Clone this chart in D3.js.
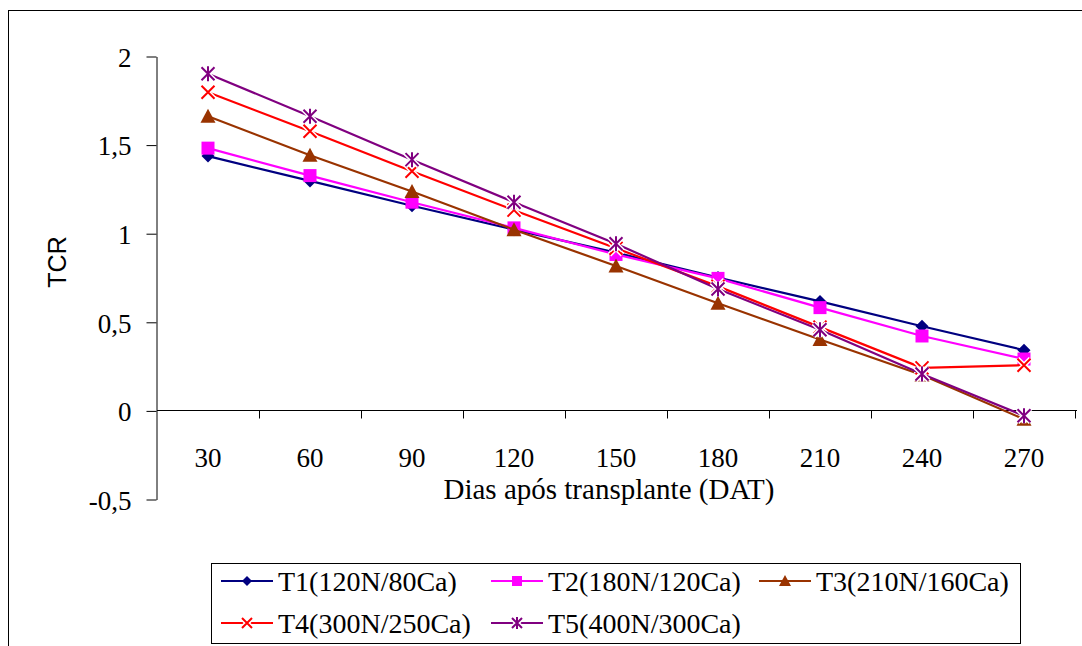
<!DOCTYPE html>
<html>
<head>
<meta charset="utf-8">
<script src="https://cdn.jsdelivr.net/npm/d3@7"></script>
<style>
  html, body { margin: 0; padding: 0; background: #fff; }
  svg { display: block; }
</style>
</head>
<body>
<svg id="chart" width="1082" height="646"></svg>
<script>
// Days after transplant (categories)
const days = [30, 60, 90, 120, 150, 180, 210, 240, 270];
const yTicks = [-0.5, 0, 0.5, 1, 1.5, 2];

// TCR per treatment
const t1 = [1.435, 1.295, 1.155, 1.02, 0.89, 0.75, 0.615, 0.475, 0.34];
const t2 = [1.48, 1.325, 1.175, 1.03, 0.88, 0.745, 0.58, 0.42, 0.29];
const t3 = [1.66, 1.44, 1.235, 1.02, 0.815, 0.605, 0.40, 0.20, -0.05];
const t4 = [1.795, 1.575, 1.35, 1.13, 0.915, 0.70, 0.47, 0.24, 0.255];
const t5 = [1.90, 1.66, 1.415, 1.175, 0.94, 0.685, 0.455, 0.205, -0.03];

const seriesNames = ["T1(120N/80Ca)", "T2(180N/120Ca)", "T3(210N/160Ca)", "T4(300N/250Ca)", "T5(400N/300Ca)"];
const seriesValues = [t1, t2, t3, t4, t5];
const seriesColors = ["#000080", "#FF00FF", "#993300", "#FF0000", "#800080"];
const seriesMarkers = ["diamond", "square", "triangle", "x", "star"];

const SERIF = "'Liberation Serif', 'DejaVu Serif', serif";
const SANS = "'Liberation Sans', Arial, sans-serif";

const svg = d3.select("#chart");

// Outer frame
svg.append("rect")
  .attr("x", 8.5).attr("y", 10.5)
  .attr("width", 1090).attr("height", 650)
  .attr("fill", "none").attr("stroke", "#000").attr("stroke-width", 1);

const plot = { left: 157, right: 1075, top: 56, bottom: 499 };

const x = d3.scaleBand().domain(days).range([plot.left, plot.right]).padding(0);
const y = d3.scaleLinear().domain([-0.5, 2]).range([plot.bottom, plot.top]);

// Y axis
const yAxis = d3.axisLeft(y).tickValues(yTicks).tickSize(10).tickSizeOuter(0)
  .tickFormat(d => String(d).replace(".", ","));
const gy = svg.append("g").attr("transform", `translate(${plot.left - 0.5},0.5)`).call(yAxis);
gy.attr("font-family", null).attr("font-size", null);
gy.select(".domain").attr("stroke", "#000");
gy.selectAll(".tick line").attr("stroke", "#000");
gy.selectAll(".tick text")
  .style("font-family", SERIF)
  .style("font-size", "27px")
  .style("fill", "#000")
  .attr("x", -25).attr("dy", "0.36em");

// X axis at zero, ticks on category boundaries
const gx = svg.append("g").attr("transform", `translate(0,${Math.round(y(0)) + 0.5})`);
gx.append("line")
  .attr("x1", plot.left).attr("x2", plot.right + 2)
  .attr("stroke", "#000");
const boundaries = days.map(d => x(d) + x.bandwidth());
gx.selectAll("line.tk").data(boundaries).join("line")
  .attr("class", "tk")
  .attr("x1", d => Math.round(d) + 0.5).attr("x2", d => Math.round(d) + 0.5)
  .attr("y1", 0).attr("y2", 8)
  .attr("stroke", "#000");
svg.append("g").selectAll("text").data(days).join("text")
  .style("font-family", SERIF)
  .style("font-size", "27px")
  .attr("x", d => x(d) + x.bandwidth() / 2)
  .attr("y", 467)
  .attr("text-anchor", "middle")
  .text(d => d);

// Axis titles
svg.append("text")
  .style("font-family", SERIF)
  .style("font-size", "29px")
  .attr("x", 609).attr("y", 499)
  .attr("text-anchor", "middle")
  .text("Dias após transplante (DAT)");
svg.append("text")
  .style("font-family", SANS)
  .style("font-size", "25px")
  .attr("transform", "translate(66,262) rotate(-90)")
  .attr("text-anchor", "middle")
  .text("TCR");

// Marker drawing
function drawMarker(g, type, cx, cy, color, s) {
  const m = g.append("g").attr("transform", `translate(${cx},${cy})`);
  if (type === "diamond") {
    m.append("path").attr("d", `M0,${-s}L${s},0L0,${s}L${-s},0Z`).attr("fill", color);
  } else if (type === "square") {
    m.append("rect").attr("x", -s).attr("y", -s).attr("width", 2 * s).attr("height", 2 * s).attr("fill", color);
  } else if (type === "triangle") {
    m.append("path").attr("d", `M0,${-s - 1}L${s + 1},${s}L${-s - 1},${s}Z`).attr("fill", color);
  } else if (type === "x") {
    const p = `M${-s},${-s}L${s},${s}M${s},${-s}L${-s},${s}`;
    m.append("path").attr("d", p).attr("stroke", "#fff").attr("stroke-width", 5);
    m.append("path").attr("d", p).attr("stroke", color).attr("stroke-width", 2);
  } else if (type === "star") {
    const p = `M${-s},${-s}L${s},${s}M${s},${-s}L${-s},${s}M0,${-s - 1}L0,${s + 1}`;
    m.append("path").attr("d", p).attr("stroke", "#fff").attr("stroke-width", 5);
    m.append("path").attr("d", p).attr("stroke", color).attr("stroke-width", 2);
  }
}

const line = d3.line()
  .x((d, i) => x(days[i]) + x.bandwidth() / 2)
  .y(d => y(d));

const series = svg.append("g");
seriesValues.forEach((vals, k) => {
  series.append("path")
    .datum(vals)
    .attr("d", line)
    .attr("fill", "none")
    .attr("stroke", seriesColors[k])
    .attr("stroke-width", 2.2);
  vals.forEach((v, i) => {
    drawMarker(series, seriesMarkers[k], x(days[i]) + x.bandwidth() / 2, y(v), seriesColors[k], 6.5);
  });
});

// Legend
const legend = svg.append("g");
legend.append("rect")
  .attr("x", 211.5).attr("y", 563.5)
  .attr("width", 809).attr("height", 80)
  .attr("fill", "#fff").attr("stroke", "#000");
const legendPos = [
  { lx: 221, ly: 581 }, { lx: 491, ly: 581 }, { lx: 759, ly: 581 },
  { lx: 221, ly: 623 }, { lx: 491, ly: 623 }
];
seriesNames.forEach((name, k) => {
  const p = legendPos[k];
  legend.append("line")
    .attr("x1", p.lx).attr("x2", p.lx + 52)
    .attr("y1", p.ly).attr("y2", p.ly)
    .attr("stroke", seriesColors[k]).attr("stroke-width", 2);
  drawMarker(legend, seriesMarkers[k], p.lx + 26, p.ly, seriesColors[k], 5);
  legend.append("text")
    .style("font-family", SERIF)
    .style("font-size", "28px")
    .attr("x", p.lx + 57).attr("y", p.ly + 10)
    .text(name);
});
</script>
</body>
</html>
